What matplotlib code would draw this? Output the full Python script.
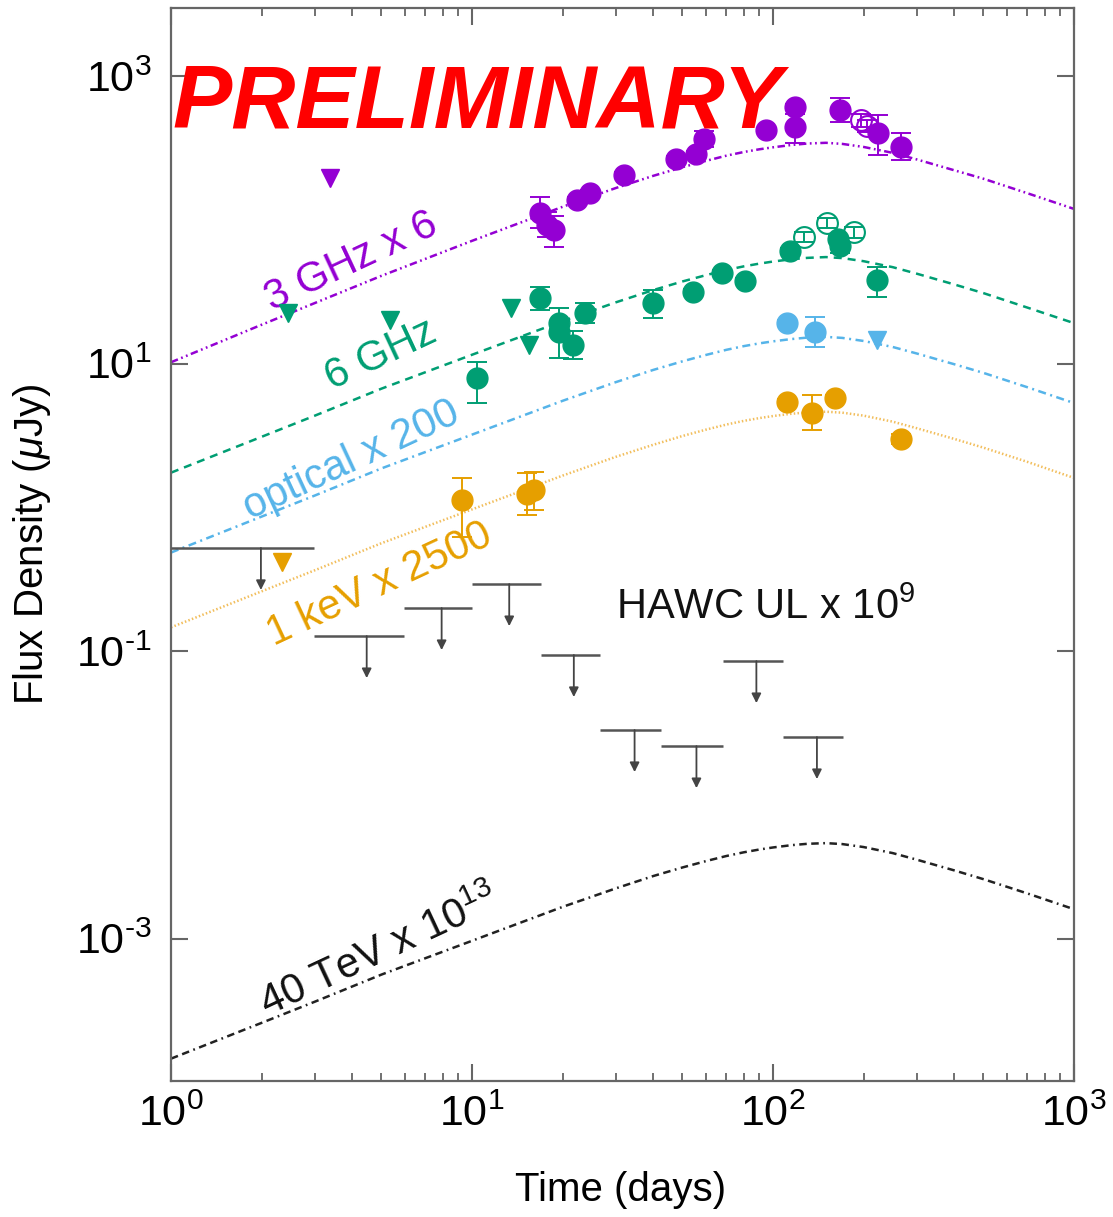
import matplotlib
matplotlib.use('Agg')
import matplotlib.pyplot as plt
import numpy as np

plt.rcParams['font.family'] = ['Liberation Sans', 'DejaVu Sans']
plt.rcParams['mathtext.fontset'] = 'custom'
plt.rcParams['mathtext.rm'] = 'Liberation Sans'
plt.rcParams['mathtext.it'] = 'Liberation Sans:italic'
plt.rcParams['mathtext.bf'] = 'Liberation Sans:bold'

# ---------------- colours ----------------
C_PURPLE = '#9400D3'
C_GREEN = '#009E73'
C_BLUE = '#56B4E9'
C_ORANGE = '#E69F00'
C_ORANGE_LINE = '#F2BE5C'
C_GRAY = '#555555'

# ---------------- model curves ----------------
model_t = [1, 2, 3, 5, 10, 20, 30, 40, 50, 60, 70, 80, 90, 100, 115, 130, 150,
           170, 200, 250, 300, 400, 500, 700, 1000]
model_3ghz = [10.2, 18.6, 26.3, 40.7, 71.3, 123, 166, 202, 232, 257, 279, 296, 309, 319, 331,
              339, 343, 337, 321, 292, 263, 221, 193, 153, 119]
model_6ghz = [1.74, 3.09, 4.33, 6.68, 11.5, 19.7, 26.6, 32.4, 37.2, 41.2, 44.7, 47.4, 49.5, 51.2,
              53.1, 54.3, 55.0, 54.1, 51.5, 46.8, 42.2, 35.5, 30.9, 24.5, 19.1]
model_opt = [0.484, 0.861, 1.205, 1.862, 3.20, 5.50, 7.41, 9.02, 10.35, 11.48, 12.45, 13.21, 13.80,
             14.26, 14.79, 15.14, 15.31, 15.07, 14.35, 13.03, 11.75, 9.89, 8.61, 6.84, 5.31]
model_xray = [0.146, 0.260, 0.364, 0.562, 0.966, 1.66, 2.24, 2.72, 3.13, 3.47, 3.76, 3.99, 4.17,
              4.31, 4.47, 4.57, 4.62, 4.55, 4.34, 3.94, 3.55, 2.99, 2.60, 2.07, 1.60]
model_tev = [1.46e-4, 2.59e-4, 3.63e-4, 5.61e-4, 9.64e-4, 1.66e-3, 2.23e-3, 2.72e-3, 3.12e-3,
             3.46e-3, 3.75e-3, 3.98e-3, 4.16e-3, 4.30e-3, 4.46e-3, 4.56e-3, 4.61e-3, 4.54e-3,
             4.33e-3, 3.93e-3, 3.54e-3, 2.98e-3, 2.59e-3, 2.06e-3, 1.60e-3]

# ---------------- 3 GHz x 6 data ----------------
g3_t = [16.8, 17.7, 18.8, 22.4, 24.6, 32.1, 47.8, 55.7, 59.2, 95.1, 118.7, 118.7, 167.4, 223.7, 266.8]
g3_f = [111, 91.9, 84.9, 137, 153, 205, 265, 287, 365, 421, 609, 442, 580, 401, 321]
g3_lo = [87.6, 75.9, 64.6, 130, 146, 196, 254, 275, 322, 405, 585, 342, 479, 282, 260]
g3_hi = [144, 113, 106, 145, 161, 215, 277, 300, 414, 438, 634, 540, 703, 535, 401]
g3_open_t = [196.6, 205.8]
g3_open_f = [494, 449]
g3_open_lo = [445, 405]
g3_open_hi = [545, 495]
g3_ul_t = [3.37]
g3_ul_f = [195]

# ---------------- 6 GHz data ----------------
g6_t = [10.4, 16.8, 19.5, 19.5, 21.6, 23.7, 39.8, 54.4, 67.9, 81.0, 114.3, 164.0, 167.0, 222.0]
g6_f = [7.93, 28.6, 19.1, 16.6, 13.4, 22.5, 26.4, 31.4, 42.6, 37.5, 60.6, 74.0, 66.0, 38.1]
g6_lo = [5.31, 23.6, 10.9, 15.8, 10.7, 19.1, 20.7, 29.8, 40.5, 35.6, 57.6, 70.3, 58.7, 29.0]
g6_hi = [10.2, 34.0, 24.3, 17.4, 16.8, 26.4, 32.5, 33.0, 44.7, 39.4, 63.6, 77.7, 69.3, 46.9]
g6_open_t = [127.1, 151.5, 186.3]
g6_open_f = [75.9, 94.9, 82.2]
g6_open_lo = [69.5, 87.0, 75.0]
g6_open_hi = [82.5, 103.0, 89.5]
g6_ul_t = [2.44, 5.33, 13.5, 15.5]
g6_ul_f = [22.5, 20.1, 24.3, 13.4]

# ---------------- optical x 200 data ----------------
opt_t = [111.6, 138.3]
opt_f = [19.1, 16.6]
opt_lo = [18.2, 13.0]
opt_hi = [20.0, 21.1]
opt_ul_t = [222.0]
opt_ul_f = [14.6]

# ---------------- 1 keV x 2500 data ----------------
xr_t = [9.24, 15.2, 16.1, 111.6, 135.1, 161.0, 266.8]
xr_f = [1.12, 1.24, 1.32, 5.40, 4.53, 5.75, 2.98]
xr_lo = [0.621, 0.883, 0.95, 5.15, 3.45, 5.50, 2.75]
xr_hi = [1.60, 1.73, 1.75, 5.65, 6.04, 6.00, 3.25]
xr_ul_t = [2.34]
xr_ul_f = [0.416]

# ---------------- HAWC upper limits x 1e9 ----------------
hawc_start = [1.0, 2.98, 5.93, 10.0, 16.9, 26.7, 42.6, 68.4, 108]
hawc_end = [2.98, 5.93, 10.0, 16.9, 26.7, 42.6, 68.4, 108, 171]
hawc_mid = [1.99, 4.47, 7.93, 13.3, 21.8, 34.7, 55.7, 88.1, 140]
hawc_ul = [0.521, 0.127, 0.199, 0.292, 0.0938, 0.0282, 0.0218, 0.0851, 0.0252]
ARROW_FACTOR = 0.51

# ---------------- axes ticks ----------------
xticks = [1, 10, 100, 1000]
xticklabels = [r'$10^{0}$', r'$10^{1}$', r'$10^{2}$', r'$10^{3}$']
yticks = [1e-3, 1e-1, 1e1, 1e3]
yticklabels = [r'$10^{\text{-}3}$', r'$10^{\text{-}1}$', r'$10^{1}$', r'$10^{3}$']

fig = plt.figure(figsize=(11.13, 12.17), dpi=100)
ax = fig.add_axes([0.1536, 0.1117, 0.8113, 0.8817])
ax.set_xscale('log')
ax.set_yscale('log')
ax.set_xlim(1, 1000)
ax.set_ylim(1.02e-4, 2970)

# model lines
LW = 1.8
ax.plot(model_t, model_3ghz, color=C_PURPLE, lw=LW, ls=(0, (3.0, 1.4, 0.7, 1.4, 0.7, 1.4)), zorder=2)
ax.plot(model_t, model_6ghz, color=C_GREEN, lw=LW, ls=(0, (3.2, 2.4)), zorder=2)
ax.plot(model_t, model_opt, color=C_BLUE, lw=LW, ls=(0, (3.2, 1.8, 0.8, 1.8)), zorder=2)
ax.plot(model_t, model_xray, color=C_ORANGE_LINE, lw=LW, ls=(0, (0.6, 0.9)), zorder=2)
ax.plot(model_t, model_tev, color='#222222', lw=LW, ls=(0, (3.0, 1.8, 3.0, 1.8, 0.7, 1.8)), zorder=2)

MS = 15
TMS = 13.5
CAP = 7
ELW = 1.4


def errpts(t, f, lo, hi, color, filled=True):
    f = np.asarray(f)
    yerr = [f - np.asarray(lo), np.asarray(hi) - f]
    ax.errorbar(t, f, yerr=yerr, fmt='none', ecolor=color, elinewidth=ELW,
                capsize=CAP, capthick=ELW, zorder=3)
    if filled:
        ax.plot(t, f, 'o', ms=MS, color=color, mec=color, zorder=4, ls='none')
    else:
        ax.plot(t, f, 'o', ms=MS, mfc='none', mec=color, mew=1.5, zorder=4, ls='none')


errpts(g3_t, g3_f, g3_lo, g3_hi, C_PURPLE)
errpts(g3_open_t, g3_open_f, g3_open_lo, g3_open_hi, C_PURPLE, filled=False)
ax.plot(g3_ul_t, g3_ul_f, 'v', ms=TMS, color=C_PURPLE, ls='none', zorder=4)

errpts(g6_t, g6_f, g6_lo, g6_hi, C_GREEN)
errpts(g6_open_t, g6_open_f, g6_open_lo, g6_open_hi, C_GREEN, filled=False)
ax.plot(g6_ul_t, g6_ul_f, 'v', ms=TMS, color=C_GREEN, ls='none', zorder=4)

errpts(opt_t, opt_f, opt_lo, opt_hi, C_BLUE)
ax.plot(opt_ul_t, opt_ul_f, 'v', ms=TMS, color=C_BLUE, ls='none', zorder=4)

errpts(xr_t, xr_f, xr_lo, xr_hi, C_ORANGE)
ax.plot(xr_ul_t, xr_ul_f, 'v', ms=TMS, color=C_ORANGE, ls='none', zorder=4)

# HAWC upper limits
ax.hlines(hawc_ul, hawc_start, hawc_end, color=C_GRAY, lw=1.8, zorder=3)
for xm, yv in zip(hawc_mid, hawc_ul):
    ax.annotate('', xy=(xm, yv * ARROW_FACTOR), xytext=(xm, yv),
                arrowprops=dict(arrowstyle='-|>', color='#444444', lw=1.3,
                                mutation_scale=14, shrinkA=0, shrinkB=0),
                zorder=3)

# labels on curves
TXT = 30
ROT = 25
ax.text(3.96, 50.8, '3 GHz x 6', color=C_PURPLE, fontsize=TXT, rotation=ROT,
        ha='center', va='center', rotation_mode='anchor')
ax.text(4.98, 11.5, '6 GHz', color=C_GREEN, fontsize=TXT, rotation=ROT,
        ha='center', va='center', rotation_mode='anchor')
ax.text(3.99, 2.13, 'optical x 200', color=C_BLUE, fontsize=TXT, rotation=ROT,
        ha='center', va='center', rotation_mode='anchor')
ax.text(4.94, 0.288, '1 keV x 2500', color=C_ORANGE, fontsize=TXT, rotation=ROT,
        ha='center', va='center', rotation_mode='anchor')
ax.text(4.94, 8.05e-4, r'40 TeV x 10$^{13}$', color='#111111', fontsize=TXT, rotation=ROT,
        ha='center', va='center', rotation_mode='anchor')
ax.text(30.2, 0.199, r'HAWC UL x 10$^{9}$', color='#111111', fontsize=TXT,
        ha='left', va='center')

# axes styling
for sp in ax.spines.values():
    sp.set_color('#666666')
    sp.set_linewidth(1.6)

ax.set_xticks(xticks)
ax.set_xticklabels(xticklabels)
ax.xaxis.set_minor_locator(matplotlib.ticker.LogLocator(base=10, subs=np.arange(2, 10)))
ax.xaxis.set_minor_formatter(matplotlib.ticker.NullFormatter())
ax.set_yticks(yticks)
ax.set_yticklabels(yticklabels)
ax.yaxis.set_minor_locator(matplotlib.ticker.NullLocator())

ax.tick_params(axis='both', which='major', direction='in', length=12, width=1.5,
               color='#666666', labelsize=31, top=True, right=True)
ax.tick_params(axis='x', which='minor', direction='in', length=6, width=1.3,
               color='#666666', top=True, bottom=True)
ax.tick_params(axis='y', which='major', pad=14)
ax.tick_params(axis='x', which='major', pad=10)

ax.set_xlabel('Time (days)', fontsize=29)
ax.set_ylabel(r'Flux Density ($\mu$Jy)', fontsize=29)
ax.xaxis.set_label_coords(0.498, -0.1016)
ax.xaxis.label.set_va('center')
ax.yaxis.set_label_coords(-0.154, 0.5)
ax.yaxis.label.set_va('center')

# PRELIMINARY stamp
fig.text(172 / 1113, 1 - 127 / 1217, 'PRELIMINARY', color='#FF0000', fontsize=64,
         fontweight='bold', fontstyle='italic', ha='left', va='baseline', zorder=10)

fig.savefig('out.png', dpi=100)
